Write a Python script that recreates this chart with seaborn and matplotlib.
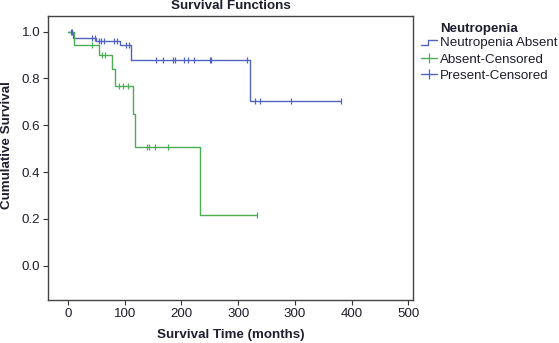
import numpy as np
import pandas as pd
import matplotlib
matplotlib.use("Agg")
import matplotlib.pyplot as plt
import seaborn as sns
from matplotlib.lines import Line2D
from matplotlib.legend_handler import HandlerBase

# ---- data ----
blue_times = [0, 9, 49, 91, 112, 320, 481]
blue_surv = [1.0, 0.974, 0.961, 0.943, 0.879, 0.705, 0.705]
blue_cens = [5, 8, 43, 47, 54, 58, 64, 82, 86, 102, 107, 155, 168, 185, 188,
             205, 211, 223, 250, 253, 315, 329, 339, 393, 481]

green_times = [0, 11, 55, 78, 83, 114, 118, 233, 333]
green_surv = [1.0, 0.943, 0.900, 0.839, 0.768, 0.647, 0.508, 0.217, 0.217]
green_cens = [43, 61, 65, 90, 97, 106, 139, 143, 153, 176, 333]

x_ticks = [0, 100, 200, 300, 400, 500, 600]
x_tick_labels = ["0", "100", "200", "300", "300", "400", "500"]
y_ticks = [0.0, 0.2, 0.4, 0.6, 0.8, 1.0]

legend_labels = ["Neutropenia Absent", "Absent-Censored", "Present-Censored"]

BLUE = "#5063bd"
GREEN = "#4cad55"
TXT = "#1e1e2e"
FS = 9.6

sns.set_theme(style="white")
plt.rcParams["font.family"] = ["Liberation Sans", "DejaVu Sans"]

W, H = 559, 343
fig = plt.figure(figsize=(W / 100, H / 100), dpi=100)
ax = fig.add_axes([48 / W, 1 - 300 / H, (413 - 48) / W, (300 - 16) / H])


def level_at(times, surv, t):
    idx = np.searchsorted(times, t, side="right") - 1
    return np.asarray(surv)[idx]


bt = pd.DataFrame({"t": blue_times, "s": blue_surv})
gt = pd.DataFrame({"t": green_times, "s": green_surv})
bc = pd.DataFrame({"t": blue_cens, "s": level_at(blue_times, blue_surv, blue_cens)})
gc = pd.DataFrame({"t": green_cens, "s": level_at(green_times, green_surv, green_cens)})

sns.lineplot(data=bt, x="t", y="s", ax=ax, color=BLUE, lw=1.0,
             drawstyle="steps-post", estimator=None, sort=False)
sns.lineplot(data=gt, x="t", y="s", ax=ax, color=GREEN, lw=1.0,
             drawstyle="steps-post", estimator=None, sort=False)
sns.scatterplot(data=bc, x="t", y="s", ax=ax, marker="|", s=25,
                color=BLUE, edgecolor=BLUE, linewidth=0.9, zorder=3)
sns.scatterplot(data=gc, x="t", y="s", ax=ax, marker="|", s=25,
                color=GREEN, edgecolor=GREEN, linewidth=0.9, zorder=3)

ax.set_xlim(-35, 608)
ax.set_ylim(-0.147, 1.067)
ax.set_xticks(x_ticks)
ax.set_xticklabels(x_tick_labels)
ax.set_yticks(y_ticks)
ax.set_yticklabels([f"{v:.1f}" for v in y_ticks])
ax.set_xlabel("")
ax.set_ylabel("")
ax.tick_params(axis="both", which="major", direction="out", length=3.5,
               width=0.8, color="#333333", labelsize=FS, labelcolor=TXT,
               pad=2, bottom=True, left=True)
for sp in ax.spines.values():
    sp.set_color("#444444")
    sp.set_linewidth(1.0)
    sp.set_visible(True)

fig.text(230.5 / W, 1 - 6 / H, "Survival Functions", ha="center", va="center",
         fontsize=FS, fontweight="bold", color=TXT)
fig.text(230.5 / W, 1 - 335 / H, "Survival Time (months)", ha="center",
         va="center", fontsize=FS, fontweight="bold", color=TXT)
fig.text(7 / W, 1 - 145 / H, "Cumulative Survival", ha="center", va="center",
         rotation=90, fontsize=FS, fontweight="bold", color=TXT)
fig.text(440 / W, 1 - 29 / H, "Neutropenia", ha="left", va="center",
         fontsize=FS, fontweight="bold", color=TXT)


class StepHandler(HandlerBase):
    def create_artists(self, legend, orig_handle, xdescent, ydescent, width,
                       height, fontsize, trans):
        x0, x1 = -xdescent, -xdescent + width
        ylo = -ydescent + 0.1 * height
        yhi = -ydescent + 0.7 * height
        xm = x0 + 0.45 * width
        line = Line2D([x0, xm, xm, x1], [ylo, ylo, yhi, yhi],
                      color=orig_handle.get_color(), lw=1.0, transform=trans)
        return [line]


h_step = Line2D([], [], color=BLUE)
h_g = Line2D([], [], color=GREEN, marker="|", markersize=7, lw=1.0,
             markeredgewidth=0.9)
h_b = Line2D([], [], color=BLUE, marker="|", markersize=7, lw=1.0,
             markeredgewidth=0.9)
leg = fig.legend([h_step, h_g, h_b], legend_labels,
                 handler_map={h_step: StepHandler()},
                 loc="upper left", bbox_to_anchor=(421 / W, 1 - 37 / H),
                 frameon=False, fontsize=FS, handlelength=1.2,
                 handletextpad=0.2, labelspacing=0.3, borderpad=0,
                 borderaxespad=0)
for t in leg.get_texts():
    t.set_color(TXT)

fig.savefig("out.png", dpi=100)
